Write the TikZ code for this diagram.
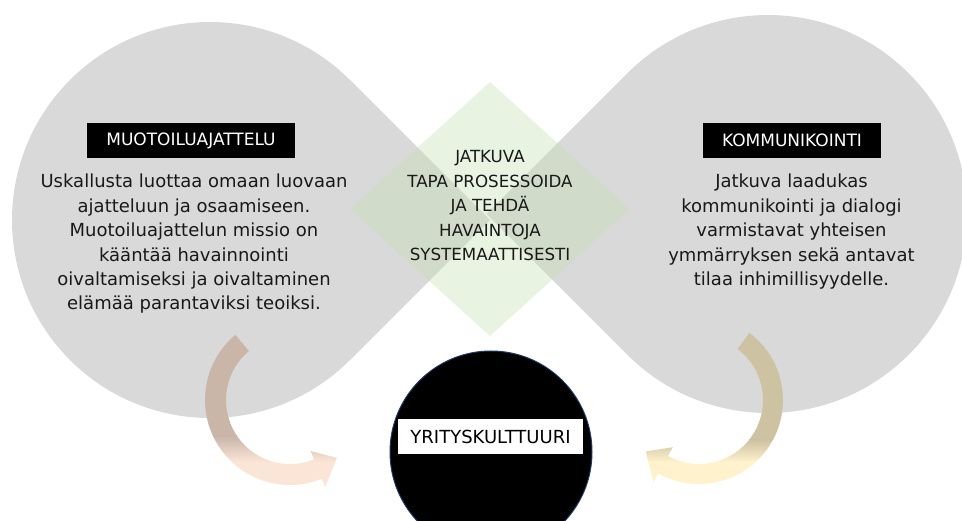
\documentclass[tikz,border=0pt]{standalone}
\usepackage{fontspec}
\setmainfont{DejaVu Sans}
\begin{document}
\begin{tikzpicture}[x=1pt,y=1pt]
\definecolor{dropgrey}{HTML}{D9D9D9}
\definecolor{leaf}{HTML}{C5E0B4}
\definecolor{navyline}{HTML}{1F3864}
\definecolor{cocoa}{HTML}{C9B6A9}
\definecolor{peach}{HTML}{FBE5D6}
\definecolor{khaki}{HTML}{CDC2A2}
\definecolor{cream}{HTML}{FFF2CC}
\tikzset{
  bodytext/.style={align=center, inner sep=0pt, text=black!90,
    font=\fontsize{18}{24.4}\selectfont, anchor=base},
  capstext/.style={align=center, inner sep=0pt, text=black!90,
    font=\fontsize{16.7}{24.5}\selectfont, anchor=base},
  titlebox/.style={fill=black, text=white, inner sep=0pt,
    minimum height=35pt, font=\fontsize{17}{20}\selectfont},
  labelbox/.style={fill=white, text=black, inner sep=0pt,
    minimum height=35pt, minimum width=185pt, font=\fontsize{18}{20}\selectfont},
}
\useasboundingbox (0,0) rectangle (962,-521);

% two grey teardrops pointing at each other
\fill[dropgrey] (490,-220) -- (350,-80)
  arc[start angle=45, end angle=315, radius=198] -- cycle;
\fill[dropgrey] (486.6,-214) -- (627.3,-73.3)
  arc[start angle=135, end angle=-135, radius=199] -- cycle;

% translucent diamond in the middle
\fill[leaf, opacity=0.4] (350,-209) -- (490,-82) -- (630,-209) -- (490,-336) -- cycle;

% left curved arrow
\begin{scope}
  \clip ([shift={(290,-400)}]130:85) arc[start angle=130, end angle=292, radius=85]
    -- ([shift={(290,-400)}]292:94) -- ([shift={(290,-400)}]309:74.5)
    -- ([shift={(290,-400)}]292:55) -- ([shift={(290,-400)}]292:64)
    arc[start angle=292, end angle=130, radius=64] -- cycle;
  \fill[cocoa] (190,-320) rectangle (400,-436);
  \shade[top color=cocoa, bottom color=peach] (190,-436) rectangle (400,-462);
  \fill[peach] (190,-462) rectangle (400,-521);
\end{scope}

% right curved arrow
\begin{scope}
  \clip ([shift={(699,-400)}]53:84) arc[start angle=53, end angle=-119, radius=84]
    -- ([shift={(699,-400)}]-119:94) -- ([shift={(699,-400)}]-136:74)
    -- ([shift={(699,-400)}]-119:54) -- ([shift={(699,-400)}]-119:64)
    arc[start angle=-119, end angle=53, radius=64] -- cycle;
  \fill[khaki] (600,-320) rectangle (800,-440);
  \shade[top color=khaki, bottom color=cream] (600,-440) rectangle (800,-462);
  \fill[cream] (600,-462) rectangle (800,-521);
\end{scope}

% black core circle with its label
\node[circle, fill=black, draw=navyline, line width=1pt, minimum size=202pt,
  inner sep=0pt] (core) at (491,-452) {};
\node[labelbox] (corelabel) at (490.5,-436.5) {YRITYSKULTTUURI};

% titles
\node[titlebox, minimum width=208pt] (ltitle) at (191,-140.5) {MUOTOILUAJATTELU};
\node[titlebox, minimum width=178pt] (rtitle) at (792,-140.5) {KOMMUNIKOINTI};

% texts (anchored at the baseline of their last line)
\node[bodytext] (ltext) at (194,-310) {Uskallusta luottaa omaan luovaan\\
ajatteluun ja osaamiseen.\\
Muotoiluajattelun missio on\\
kääntää havainnointi\\
oivaltamiseksi ja oivaltaminen\\
elämää parantaviksi teoiksi.};
\node[bodytext] (rtext) at (791.5,-285.5) {Jatkuva laadukas\\
kommunikointi ja dialogi\\
varmistavat yhteisen\\
ymmärryksen sekä antavat\\
tilaa inhimillisyydelle.};
\node[capstext] (mtext) at (490,-261) {JATKUVA\\
TAPA PROSESSOIDA\\
JA TEHDÄ\\
HAVAINTOJA\\
SYSTEMAATTISESTI};
\end{tikzpicture}
\end{document}
